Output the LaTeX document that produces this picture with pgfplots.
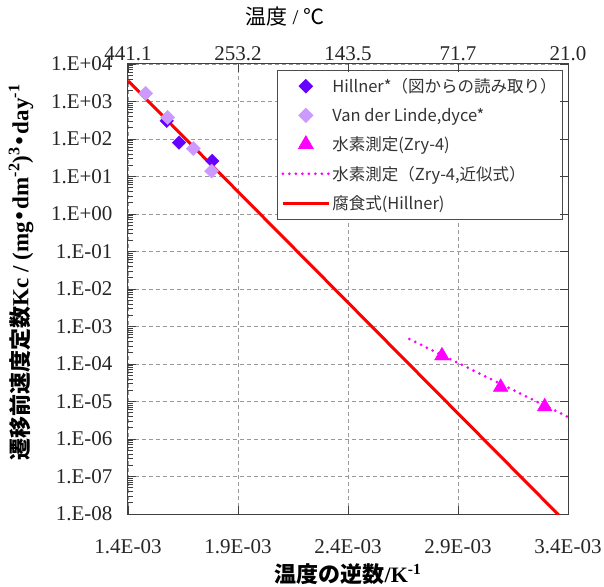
\documentclass[border=0pt]{standalone}
\usepackage{pgfplots}
\pgfplotsset{compat=1.18}
\usepackage{fontspec}
\setmainfont{Liberation Serif}
\newfontfamily\jp{Noto Sans CJK JP}
\definecolor{hill}{HTML}{6600FF}
\definecolor{vdl}{HTML}{CC99FF}
\definecolor{mag}{HTML}{FF00FF}
\definecolor{gridc}{HTML}{999999}
\newcommand{\jdot}{\kern-0.22em{\jp ・}\kern-0.22em}
\begin{document}
\begin{tikzpicture}
\begin{axis}[
  scale only axis, width=440bp, height=450bp,
  xmin=1.4e-3, xmax=3.4e-3, ymode=log, ymin=1e-8, ymax=1e4,
  scaled x ticks=false,
  xtick={1.4e-3,1.9e-3,2.4e-3,2.9e-3,3.4e-3},
  xticklabels={1.4E-03,1.9E-03,2.4E-03,2.9E-03,3.4E-03},
  ytick={1e-8,1e-7,1e-6,1e-5,1e-4,1e-3,1e-2,1e-1,1,1e1,1e2,1e3,1e4},
  yticklabels={1.E-08,1.E-07,1.E-06,1.E-05,1.E-04,1.E-03,1.E-02,1.E-01,1.E+00,1.E+01,1.E+02,1.E+03,1.E+04},
  log identify minor tick positions=true,
  xtick pos=bottom, ytick pos=left, tick align=inside,
  major tick length=8bp, minor tick length=5bp,
  grid=major, major grid style={gridc, dash pattern=on 4bp off 3bp, line width=0.8bp},
  axis line style={black!75, line width=1bp},
  every tick/.style={black!75, line width=0.8bp},
  tick label style={font=\fontsize{21bp}{24bp}\selectfont, text=black!85},
  yticklabel style={xshift=-12bp},
  xticklabel style={yshift=-22bp},
  xlabel={{\jp\bfseries 温度の逆数}\textbf{/K\textsuperscript{-1}}},
  xlabel style={at={(axis description cs:0.5,-0.133)}, anchor=center, font=\fontsize{22bp}{24bp}\selectfont\bfseries},
  ylabel={{\jp\bfseries\fontsize{22bp}{24bp}\selectfont 遷移前速度定数}\textbf{Kc / (mg\jdot dm\textsuperscript{-2})\textsuperscript{3}\jdot day\textsuperscript{-1}}},
  ylabel style={at={(axis description cs:-0.243,0.537)}, anchor=center, font=\fontsize{23bp}{25bp}\selectfont\bfseries},
  legend style={at={(0.9886,0.9866)}, anchor=north east, draw=black!70, line width=0.8bp,
    font=\jp\fontsize{16.5bp}{20bp}\selectfont, text=black!80, row sep=10bp, inner xsep=4bp, inner ysep=6bp},
  legend cell align=left,
  legend image code/.code={\draw[mark repeat=2,mark phase=2,#1] plot coordinates {(10bp,0bp) (33bp,0bp) (56bp,0bp)};},
]
\coordinate (O) at (rel axis cs:0,0);
\addplot[only marks, mark=square*, mark size=4.8bp, mark options={rotate=45, draw=none, fill=hill}, color=hill]
  coordinates {(1.576e-3,305) (1.632e-3,80.5) (1.783e-3,26)};
\addlegendentry{Hillner*（図からの読み取り）}
\addplot[only marks, mark=square*, mark size=5bp, mark options={rotate=45, draw=none, fill=vdl}, color=vdl]
  coordinates {(1.480e-3,1650) (1.580e-3,376) (1.697e-3,55.7) (1.780e-3,14.0)};
\addlegendentry{Van der Linde,dyce*}
\addplot[only marks, mark=triangle*, mark size=8.5bp, mark options={draw=none, fill=mag}, color=mag]
  coordinates {(2.827e-3,1.66e-4) (3.094e-3,2.41e-5) (3.294e-3,7.3e-6)};
\addlegendentry{水素測定(Zry-4)}
\addplot[mag, line width=3bp, line cap=round, dash pattern=on 0bp off 6.5bp]
  coordinates {(2.679e-3,4.63e-4) (3.4e-3,3.87e-6)};
\addlegendentry{水素測定（Zry-4,近似式）}
\addplot[red, line width=3bp]
  coordinates {(1.4e-3,3570) (3.4e-3,5.3e-9)};
\addlegendentry{腐食式(Hillner)}
\end{axis}
\begin{axis}[
  scale only axis, width=440bp, height=450bp,
  xmin=1.4e-3, xmax=3.4e-3, ymode=log, ymin=1e-8, ymax=1e4,
  scaled x ticks=false,
  axis x line*=top, axis y line*=right,
  axis line style={-, black!75, line width=1bp},
  xtick={1.4e-3,1.9e-3,2.4e-3,2.9e-3,3.4e-3},
  xticklabels={441.1,253.2,143.5,71.7,21.0},
  ytick={1e-8,1e-7,1e-6,1e-5,1e-4,1e-3,1e-2,1e-1,1,1e1,1e2,1e3,1e4},
  yticklabels={},
  yminorticks=false,
  tick align=inside, major tick length=8bp,
  every tick/.style={black!75, line width=0.8bp},
  tick label style={font=\fontsize{21bp}{24bp}\selectfont, text=black!85},
  xticklabel style={yshift=0bp},
  xlabel={{\jp 温度} / {\jp ℃}},
  xlabel style={at={(axis description cs:0.357,1.105)}, anchor=center, font=\fontsize{21bp}{24bp}\selectfont},
]
\end{axis}
\pgfresetboundingbox
\path[use as bounding box] (O) ++(-128bp,-73bp) rectangle ++(604bp,587bp);
\end{tikzpicture}
\end{document}
